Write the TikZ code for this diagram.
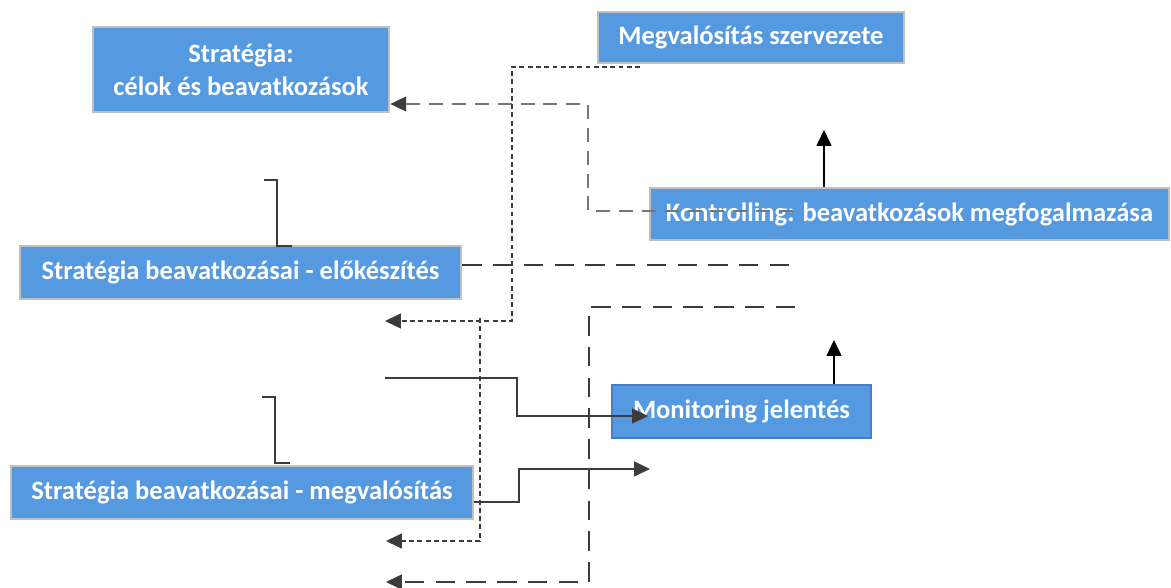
\documentclass[tikz,border=0pt]{standalone}
\usepackage{fontspec}
\setmainfont{Carlito}
\usetikzlibrary{arrows.meta, positioning}
\definecolor{boxblue}{RGB}{85, 153, 225}
\definecolor{framegray}{RGB}{192, 192, 192}
\definecolor{monitblue}{RGB}{72, 124, 198}
\definecolor{linedark}{RGB}{60, 60, 60}
\definecolor{dashgray}{RGB}{118, 118, 118}
\tikzset{
    box/.style={
        rectangle, draw=framegray, line width=1.6pt, fill=boxblue, text=white,
        font=\fontsize{15.1}{19}\selectfont\bfseries, align=center, inner sep=0pt
    },
    monitbox/.style={box, draw=monitblue, line width=1.2pt},
    arrow/.style={-{Triangle[length=9pt, width=8.5pt]}, line width=0.7pt, color=linedark},
    uparrow/.style={arrow, color=black},
    dasharrow/.style={-{Triangle[length=9pt, width=8.5pt, color=linedark]}, line width=0.8pt, dash pattern=on 8pt off 5pt, color=dashgray},
    dashline/.style={line width=0.7pt, dash pattern=on 11pt off 6.5pt, color=linedark},
    dashlinearrow/.style={dashline, -{Triangle[length=9pt, width=8.5pt]}},
    dotarrow/.style={-{Triangle[length=9pt, width=8.5pt]}, line width=0.6pt, dash pattern=on 2.8pt off 1.9pt, color=linedark},
    bracket/.style={line width=0.7pt, color=linedark},
}
\begin{document}
\begin{tikzpicture}[x=0.02cm, y=-0.02cm]
    \useasboundingbox (0,0) rectangle (1171,588);

    \node[box, minimum width=5.92cm, minimum height=1.7cm] (strat) at (241,69.5) {Stratégia:\\célok és beavatkozások};
    \node[box, minimum width=6.12cm, minimum height=1.02cm] (szerv) at (751,37.5) {Megvalósítás szervezete};
    \node[box, minimum width=10.38cm, minimum height=1.04cm] (kontr) at (909.5,214) {Kontrolling: beavatkozások megfogalmazása};
    \node[box, minimum width=8.82cm, minimum height=1.06cm] (elok) at (240.5,272.5) {Stratégia beavatkozásai - előkészítés};
    \node[monitbox, minimum width=5.18cm, minimum height=1.06cm] (monit) at (741.5,411.5) {Monitoring jelentés};
    \node[box, minimum width=9.24cm, minimum height=1.06cm] (megv) at (242,492.5) {Stratégia beavatkozásai - megvalósítás};

    \coordinate (k1) at (793,211);
    \coordinate (k2) at (588,104);
    \coordinate (s1) at (640,67);
    \coordinate (s2) at (512,321);
    \coordinate (s3) at (385,321);
    \coordinate (s4) at (480,318);
    \coordinate (s5) at (386,541);
    \coordinate (d1) at (795,265);
    \coordinate (d2) at (795,307);
    \coordinate (d3) at (589,582);
    \coordinate (d4) at (386,582);
    \coordinate (m1) at (385,378);
    \coordinate (m2) at (517,416);
    \coordinate (m3) at (648,416);
    \coordinate (m4) at (519,502);
    \coordinate (m5) at (650,469);
    \coordinate (u1) at (824,130);
    \coordinate (u2) at (834,340);
    \coordinate (b1) at (264,180);
    \coordinate (b2) at (292,246);
    \coordinate (b3) at (262,397);
    \coordinate (b4) at (290,463);

    \draw[dasharrow] (k1) -| (k2) -- (strat.east |- k2);
    \draw[dotarrow] (s1) -| (s2) -- (s3);
    \draw[dotarrow] (s4) |- (s5);
    \draw[dashline] (elok.east |- d1) -- (d1);
    \draw[dashlinearrow] (d2) -| (d3) -- (d4);
    \draw[arrow] (m1) -| (m2) -- (m3);
    \draw[arrow] (megv.east |- m4) -- (m4) |- (m5);
    \draw[uparrow] (kontr.north -| u1) -- (u1);
    \draw[uparrow] (monit.north -| u2) -- (u2);
    \draw[bracket] (b1) -- ++(13,0) |- (b2);
    \draw[bracket] (b3) -- ++(13,0) |- (b4);
\end{tikzpicture}
\end{document}
